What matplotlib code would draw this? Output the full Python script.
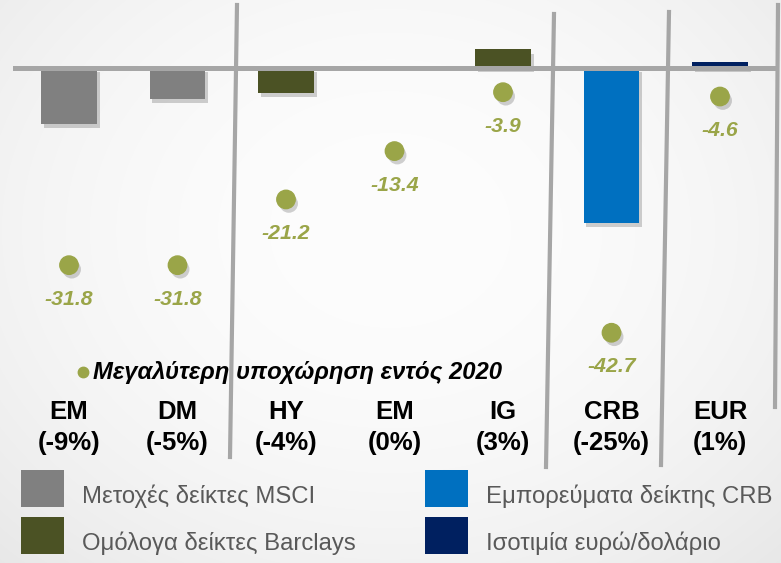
import numpy as np
import matplotlib
matplotlib.use("Agg")
import matplotlib.pyplot as plt
import matplotlib.patheffects as pe
from matplotlib.lines import Line2D
from matplotlib.patches import Rectangle

# data
categories = ["EM", "DM", "HY", "EM", "IG", "CRB", "EUR"]
returns_2020 = [-9, -5, -4, 0, 3, -25, 1]          # bar values (%)
max_drawdown = [-31.8, -31.8, -21.2, -13.4, -3.9, -42.7, -4.6]
groups = ["msci", "msci", "barc", "barc", "barc", "crb", "eur"]

group_colors = {"msci": "#808080", "barc": "#4b5224", "crb": "#0070c0", "eur": "#002060"}
group_labels = {"msci": "Μετοχές δείκτες MSCI", "barc": "Ομόλογα δείκτες Barclays",
                "crb": "Εμπορεύματα δείκτης CRB", "eur": "Ισοτιμία ευρώ/δολάριο"}
dot_color = "#9aa548"
dot_label = "Μεγαλύτερη υποχώρηση εντός 2020"

plt.rcParams["font.family"] = ["Liberation Sans", "DejaVu Sans"]

W, H = 781, 563
fig = plt.figure(figsize=(W / 100, H / 100), dpi=100)


def px(x, y):
    """pixel (top-left origin) -> figure fraction"""
    return x / W, 1 - y / H


# soft grey background
bg = fig.add_axes([0, 0, 1, 1], zorder=-5)
yy, xx = np.mgrid[0:H, 0:W]
r = np.sqrt(((xx - 390) / 520.0) ** 2 + ((yy - 230) / 420.0) ** 2)
shade = 0.992 - 0.07 * np.clip(r, 0, 1.3) ** 2
bg.imshow(np.dstack([shade] * 3), aspect="auto", extent=[0, 1, 0, 1])
bg.axis("off")

# main axes mapped so that x step = 108.5 px, 1% = 6.2 px, zero at y=68 px
ax = fig.add_axes([0, 0, 1, 1])
ax.patch.set_alpha(0)
x0, step, y0, unit = 69, 108.5, 68, 6.2
ax.set_xlim(-x0 / step, (W - x0) / step)
ax.set_ylim((y0 - H) / unit, y0 / unit)
ax.axis("off")

xs = np.arange(len(categories))
shadow = [pe.SimplePatchShadow(offset=(2, -3), shadow_rgbFace="#000000", alpha=0.18), pe.Normal()]

bars = ax.bar(xs, returns_2020, width=0.516, color=[group_colors[g] for g in groups], zorder=2)
for b in bars:
    b.set_path_effects(shadow)

ax.axhline(0, xmin=15 / W, xmax=773 / W, color="#a6a6a6", lw=3.6, zorder=3)

sc = ax.scatter(xs, max_drawdown, s=175, color=dot_color, zorder=4)
sc.set_path_effects(shadow)
for x, v in zip(xs, max_drawdown):
    ax.annotate(f"{v:.1f}", (x, v), xytext=(0, -34), textcoords="offset pixels",
                ha="center", va="center", color=dot_color, fontsize=15.3,
                fontweight="bold", fontstyle="italic", zorder=5)

# category labels with the yearly return underneath
for x, c, v in zip(xs, categories, returns_2020):
    ax.text(x, (y0 - 412) / unit, c, ha="center", va="center", fontsize=18.5,
            fontweight="bold", color="black")
    ax.text(x, (y0 - 443) / unit, f"({v}%)", ha="center", va="center", fontsize=18.5,
            fontweight="bold", color="black")

# group separators (slightly slanted like the original)
for (xa, ya), (xb, yb) in [((237, 5), (230, 457)), ((554, 14), (546, 467)),
                           ((669, 12), (661, 465)), ((778, 5), (775, 407))]:
    p1, p2 = px(xa, ya), px(xb, yb)
    fig.add_artist(Line2D([p1[0], p2[0]], [p1[1], p2[1]], transform=fig.transFigure,
                          color="#a6a6a6", lw=3, zorder=3))

# dot legend
fig.add_artist(Line2D([px(83, 0)[0]], [px(0, 372)[1]], transform=fig.transFigure,
                      marker="o", ms=7.5, color=dot_color, lw=0))
fig.text(*px(93, 373), dot_label, ha="left", va="center", fontsize=17.2,
         fontweight="bold", fontstyle="italic", color="black")

# bar legend
legend_pos = {"msci": (21, 470), "barc": (21, 517), "crb": (425, 470), "eur": (425, 517)}
for g, (lx, ly) in legend_pos.items():
    fx, fy = px(lx, ly + 37)
    fig.add_artist(Rectangle((fx, fy), 43 / W, 37 / H, transform=fig.transFigure,
                             color=group_colors[g], lw=0))
    fig.text(*px(lx + 61, ly + 26), group_labels[g], ha="left", va="center",
             fontsize=17.2, color="#595959")

fig.savefig("out.png", dpi=100)
